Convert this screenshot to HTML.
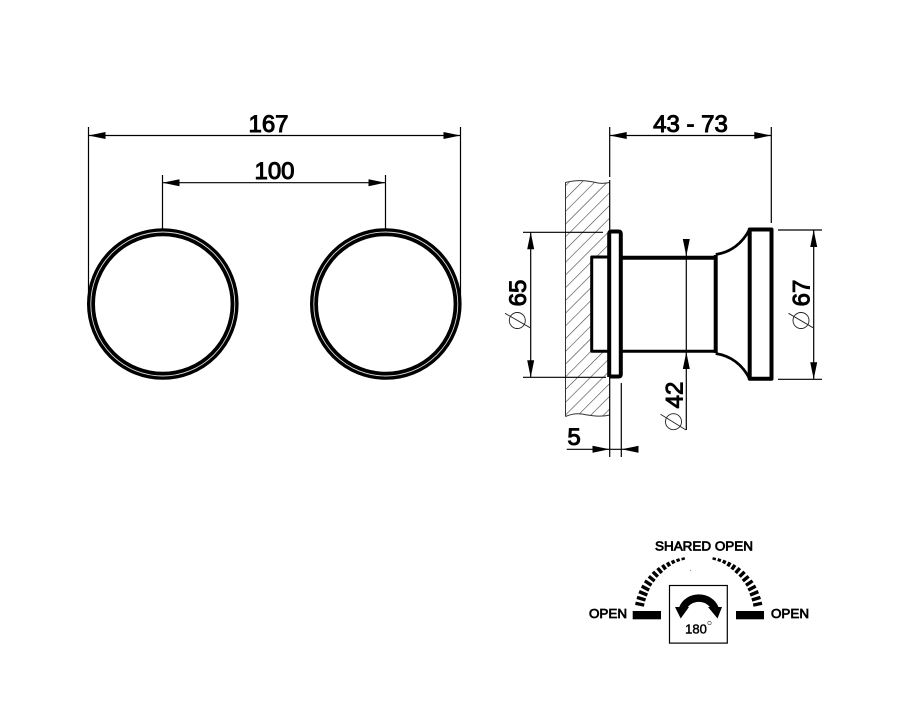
<!DOCTYPE html>
<html>
<head>
<meta charset="utf-8">
<style>
html,body{margin:0;padding:0;background:#fff}
svg{display:block}
text{font-family:"Liberation Sans",Arial,sans-serif;fill:#000;stroke:#000}
.d{font-size:24px;stroke-width:1px;text-anchor:middle}
.s{font-size:13px;stroke-width:.75px;text-anchor:middle}
.t{stroke:#000;stroke-width:1.2;fill:none}
.k{stroke:#000;fill:none;stroke-linejoin:round}
</style>
</head>
<body>
<svg width="899" height="706" viewBox="0 0 899 706" xmlns="http://www.w3.org/2000/svg">
<defs>
<pattern id="h" patternUnits="userSpaceOnUse" width="9" height="9" patternTransform="rotate(45)">
<line x1="0" y1="0" x2="0" y2="9" stroke="#444" stroke-width="1.2"/>
</pattern>
<polygon id="ar" points="0,0 17,-3.5 17,3.5" fill="#000"/>
</defs>

<!-- left view -->
<g class="k">
<circle cx="162.8" cy="304" r="71.8" stroke-width="8"/>
<circle cx="385.8" cy="304" r="71.8" stroke-width="8"/>
</g>
<circle cx="162.8" cy="304" r="72" fill="none" stroke="#ddd" stroke-width=".9"/>
<circle cx="385.8" cy="304" r="72" fill="none" stroke="#ddd" stroke-width=".9"/>
<g class="t">
<path d="M88.5 127V304M460.5 127V304M88.5 135.5H460.5"/>
<path d="M162.5 175V229M385.5 175V229M162.5 182.7H385.5"/>
</g>
<use href="#ar" x="88.5" y="135.5"/>
<use href="#ar" transform="translate(460.5 135.5) rotate(180)"/>
<use href="#ar" x="162.5" y="182.7"/>
<use href="#ar" transform="translate(385.5 182.7) rotate(180)"/>
<text class="d" x="268.5" y="132">167</text>
<text class="d" x="274.5" y="179">100</text>

<!-- section hatch -->
<path d="M565.5 182.5C578 179 590 181 598 183C603 184 607 183 609.7 182.5V414C600 417.5 590 415.5 582 414C575 413 570 414.5 565.5 416.5Z" fill="url(#h)"/>
<path d="M565.5 416.5V182.5C578 179 590 181 598 183C603 184 607 183 609.7 182.5M565.5 416.5C570 414.5 575 413 582 414C590 415.5 600 417.5 609.7 415" fill="none" stroke="#333" stroke-width="1"/>
<rect x="591" y="257" width="18" height="94" fill="#fff"/>
<rect x="609" y="231" width="12" height="146" fill="#fff"/>

<!-- part -->
<g class="k">
<path d="M608 257H591.7V351.2H608" stroke-width="3"/>
<path d="M609.2 377V234Q609.2 231.5 611.5 231.5H618.5Q620.8 231.5 620.8 234V374Q620.8 376.5 618.5 376.5H609.2" stroke-width="4"/>
<path d="M622 257.7H715.7" stroke-width="4"/>
<path d="M622 351.3H715.7" stroke-width="3"/>
<path d="M715.7 255V353" stroke-width="4"/>
<path d="M715.7 254.5C732 252 743 242 749.5 229.5" stroke-width="2.8"/>
<path d="M715.7 353.5C732 356 743 366 749.5 378.5" stroke-width="2.8"/>
<path d="M749.7 229.5H771.5V378.8H749.7Z" stroke-width="4"/>
</g>

<!-- right dims -->
<g class="t">
<path d="M609.7 127V177M771.3 127V223M609.7 135.5H771.3"/>
<path d="M609.7 180V457M621.3 383V457"/>
<path d="M523 232.3H603M523 377.3H606M530.7 232.3V377.3"/>
<path d="M778 230H822M778 379.3H822M813.7 230V379.3"/>
<path d="M686.3 240V430"/>
<path d="M566.7 449.3H638.3"/>
</g>
<use href="#ar" x="609.7" y="135.5"/>
<use href="#ar" transform="translate(771.3 135.5) rotate(180)"/>
<use href="#ar" transform="translate(530.7 232.3) rotate(90)"/>
<use href="#ar" transform="translate(530.7 377.3) rotate(-90)"/>
<use href="#ar" transform="translate(813.7 230) rotate(90)"/>
<use href="#ar" transform="translate(813.7 379.3) rotate(-90)"/>
<use href="#ar" transform="translate(686.3 256) rotate(-90)"/>
<use href="#ar" transform="translate(686.3 352) rotate(90)"/>
<use href="#ar" transform="translate(609.5 449.3) rotate(180)"/>
<use href="#ar" x="621.5" y="449.3"/>

<text class="d" x="690.5" y="132">43 - 73</text>
<text class="d" x="574" y="445">5</text>
<text class="d" transform="translate(526 293) rotate(-90)">65</text>
<text class="d" transform="translate(809.5 293) rotate(-90)">67</text>
<text class="d" transform="translate(682.7 395) rotate(-90)">42</text>

<g fill="none" stroke="#222" stroke-width=".9">
<circle cx="517.3" cy="320.5" r="8"/><path d="M505 313.3L530 327.7"/>
<circle cx="801" cy="320.5" r="8"/><path d="M788.5 313.3L813 327.7"/>
<circle cx="673.5" cy="421.7" r="8"/><path d="M660.5 414.3L686 430"/>
</g>

<!-- rotation symbol -->
<text class="s" x="704" y="550.5" textLength="98" lengthAdjust="spacingAndGlyphs">SHARED OPEN</text>
<text class="s" x="608" y="618" textLength="38" lengthAdjust="spacingAndGlyphs">OPEN</text>
<text class="s" x="790" y="618" textLength="38" lengthAdjust="spacingAndGlyphs">OPEN</text>
<rect x="632.7" y="611" width="28.3" height="8.3" fill="#000"/>
<rect x="736" y="611" width="28" height="8.3" fill="#000"/>
<rect x="669.5" y="585.5" width="57.8" height="57.6" fill="none" stroke="#000" stroke-width="1.2"/>
<path d="M682.7 608.5A17 15 0 0 1 715 608.5" fill="none" stroke="#000" stroke-width="7.5"/>
<polygon points="675,607 689,607 680.7,618.5" fill="#000"/>
<polygon points="708,607 722,607 717.5,618.5" fill="#000"/>
<text x="696" y="633.5" style="font-size:13px;stroke-width:.45px;text-anchor:middle">180</text>
<circle cx="709.5" cy="623" r="1.7" fill="none" stroke="#444" stroke-width=".6"/>

<!-- dashed arcs -->
<g stroke="#000" stroke-width="3.4" fill="none">
<path d="M634 616.7h9" transform="rotate(12 698.7 616.7)"/>
<path d="M634 616.7h9" transform="rotate(17.4 698.7 616.7)"/>
<path d="M634 616.7h9" transform="rotate(22.8 698.7 616.7)"/>
<path d="M634 616.7h8.5" transform="rotate(28.2 698.7 616.7)"/>
<path d="M634 616.7h8" transform="rotate(33.6 698.7 616.7)"/>
<path d="M634.5 616.7h7.5" transform="rotate(39 698.7 616.7)"/>
<path d="M634.5 616.7h7" transform="rotate(44.4 698.7 616.7)"/>
<path d="M635 616.7h6.5" transform="rotate(49.8 698.7 616.7)"/>
<path d="M635.5 616.7h5.5" transform="rotate(55 698.7 616.7)"/>
<path d="M636 616.7h4.5" transform="rotate(60 698.7 616.7)"/>
<path d="M636.5 616.7h3.5" transform="rotate(65 698.7 616.7)"/>
<path d="M637 616.7h3" transform="rotate(70 698.7 616.7)"/>
<path d="M637.5 616.7h2.5" transform="rotate(75 698.7 616.7)"/>

<path d="M763.4 616.7h-9" transform="rotate(-12 698.7 616.7)"/>
<path d="M763.4 616.7h-9" transform="rotate(-17.4 698.7 616.7)"/>
<path d="M763.4 616.7h-9" transform="rotate(-22.8 698.7 616.7)"/>
<path d="M763.4 616.7h-8.5" transform="rotate(-28.2 698.7 616.7)"/>
<path d="M763.4 616.7h-8" transform="rotate(-33.6 698.7 616.7)"/>
<path d="M762.9 616.7h-7.5" transform="rotate(-39 698.7 616.7)"/>
<path d="M762.9 616.7h-7" transform="rotate(-44.4 698.7 616.7)"/>
<path d="M762.4 616.7h-6.5" transform="rotate(-49.8 698.7 616.7)"/>
<path d="M761.9 616.7h-5.5" transform="rotate(-55 698.7 616.7)"/>
<path d="M761.4 616.7h-4.5" transform="rotate(-60 698.7 616.7)"/>
<path d="M760.9 616.7h-3.5" transform="rotate(-65 698.7 616.7)"/>
<path d="M760.4 616.7h-3" transform="rotate(-70 698.7 616.7)"/>
<path d="M759.9 616.7h-2.5" transform="rotate(-75 698.7 616.7)"/>
</g>
<rect x="690" y="570" width="1" height="1" fill="#999"/>
</svg>
</body>
</html>
